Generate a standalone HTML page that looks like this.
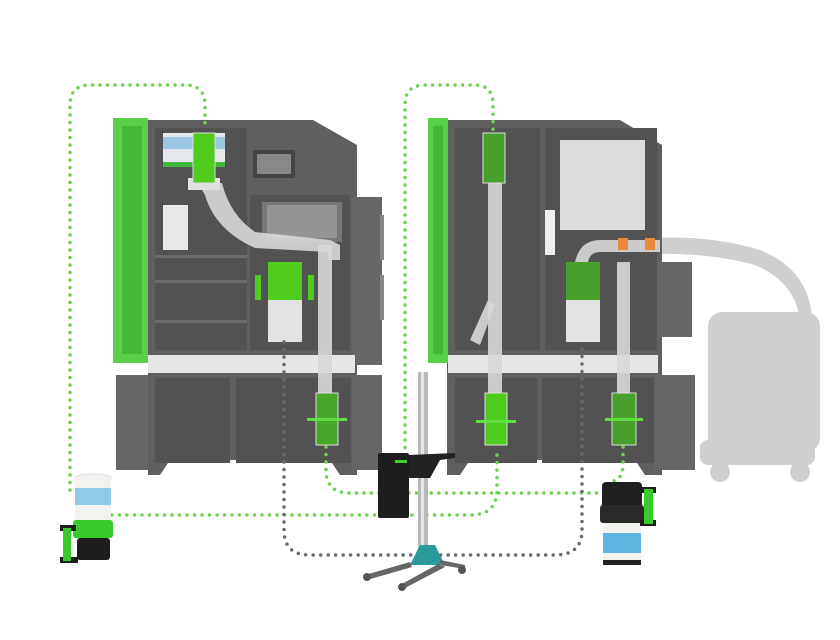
<!DOCTYPE html>
<html><head><meta charset="utf-8"><style>html,body{margin:0;padding:0;background:#fff}svg{display:block}</style></head>
<body>
<svg width="840" height="640" viewBox="0 0 840 640" xmlns="http://www.w3.org/2000/svg">
<defs>
<style>
.gd{fill:none;stroke:#72cf55;stroke-width:3.5;stroke-linecap:round;stroke-dasharray:0 7.5}
.kd{fill:none;stroke:#6a6a6a;stroke-width:3.5;stroke-linecap:round;stroke-dasharray:0 7.5}
.cab{fill:#5f5f5f}
.in{fill:#525252}
.door{fill:#666}
.pipe{fill:#d8d8d8;opacity:.9}
</style>
</defs>
<!-- vacuum silhouette -->
<g fill="#cfcfcf">
<path d="M630 240 Q700 232 760 250 Q810 270 812 320 L800 320 Q795 282 755 265 Q700 250 630 255Z"/>
<rect x="708" y="312" width="112" height="140" rx="14"/>
<rect x="700" y="440" width="115" height="25" rx="8"/>
<circle cx="720" cy="472" r="10"/><circle cx="800" cy="472" r="10"/>
</g>
<!-- LEFT MACHINE -->
<g>
<path class="cab" d="M148 120 L313 120 L357 145 L357 475 L340 475 L330 460 L170 460 L160 475 L148 475Z"/>
<rect class="in" x="155" y="128" width="92" height="222"/>
<rect class="in" x="250" y="195" width="100" height="155"/>
<rect class="in" x="155" y="378" width="75" height="85"/>
<rect class="in" x="236" y="378" width="115" height="85"/>
<rect x="253" y="150" width="42" height="28" fill="#444"/><rect x="257" y="154" width="34" height="20" fill="#888"/>
<rect x="262" y="202" width="80" height="40" fill="#777"/><rect x="267" y="205" width="70" height="33" fill="#aaa" opacity=".6"/>
<rect x="163" y="133" width="62" height="32" fill="#e2e8ec"/><rect x="163" y="137" width="62" height="12" fill="#9cc7e2"/>
<rect x="163" y="162" width="62" height="5" fill="#3fb83a"/>
<rect x="163" y="205" width="25" height="45" fill="#e8e8e8"/>
<rect x="155" y="255" width="92" height="3" fill="#6c6c6c"/><rect x="155" y="280" width="92" height="3" fill="#6c6c6c"/><rect x="155" y="320" width="92" height="3" fill="#6c6c6c"/>
<rect x="113" y="118" width="35" height="245" fill="#58d048"/><rect x="122" y="126" width="20" height="228" fill="#45b83a"/>
<rect x="352" y="197" width="30" height="168" class="door"/><rect x="380" y="215" width="4" height="45" fill="#888"/><rect x="380" y="275" width="4" height="45" fill="#888"/>
<rect x="148" y="355" width="207" height="18" fill="#e6e6e6"/>
<rect x="116" y="375" width="32" height="95" class="door"/>
<rect x="352" y="375" width="30" height="95" class="door"/>
<!-- pipes -->
<path class="pipe" d="M198 183 L222 183 Q230 215 255 232 L330 240 L340 245 L340 260 L328 260 L328 252 L255 248 Q215 230 205 195Z"/>
<rect class="pipe" x="318" y="245" width="14" height="150"/>
<rect x="188" y="178" width="32" height="12" fill="#e0e0e0"/>
<rect x="193" y="133" width="22" height="50" fill="#4fcc1e" stroke="#ddd"/>
<rect x="268" y="262" width="34" height="80" fill="#e2e2e2"/><rect x="268" y="262" width="34" height="38" fill="#4fcc1e"/>
<rect x="316" y="393" width="22" height="52" fill="#45a82a" stroke="#ddd"/>
<rect x="307" y="418" width="40" height="3" fill="#5fe040"/>
<rect x="255" y="275" width="6" height="25" fill="#4fcc1e"/><rect x="308" y="275" width="6" height="25" fill="#4fcc1e"/>
</g>
<!-- RIGHT MACHINE -->
<g>
<path class="cab" d="M447 120 L620 120 L662 145 L662 475 L645 475 L635 460 L470 460 L460 475 L447 475Z"/>
<rect class="in" x="455" y="128" width="85" height="222"/>
<rect class="in" x="545" y="128" width="112" height="222"/>
<rect class="in" x="455" y="378" width="82" height="85"/>
<rect class="in" x="542" y="378" width="112" height="85"/>
<rect x="560" y="140" width="85" height="90" fill="#dcdcdc"/>
<rect x="545" y="210" width="10" height="45" fill="#eee"/>
<rect x="428" y="118" width="20" height="245" fill="#58d048"/><rect x="433" y="126" width="10" height="228" fill="#45b83a"/>
<rect x="657" y="262" width="35" height="75" class="door"/>
<rect x="448" y="355" width="210" height="18" fill="#e6e6e6"/>
<rect x="655" y="375" width="40" height="95" class="door"/>
<rect class="pipe" x="488" y="180" width="14" height="215"/>
<path class="pipe" d="M470 340 L488 300 L495 305 L480 345Z"/>
<path class="pipe" d="M575 262 Q580 240 600 240 L660 240 L660 252 L600 252 Q590 252 588 262Z"/>
<rect class="pipe" x="617" y="262" width="13" height="133"/>
<rect x="483" y="133" width="22" height="50" fill="#48a02c" stroke="#ddd"/>
<rect x="566" y="262" width="34" height="80" fill="#e2e2e2"/><rect x="566" y="262" width="34" height="38" fill="#48a02c"/>
<rect x="485" y="393" width="22" height="52" fill="#4fcc1e" stroke="#ddd"/>
<rect x="476" y="420" width="40" height="3" fill="#5fe040"/>
<rect x="612" y="393" width="24" height="52" fill="#48a02c" stroke="#ddd"/>
<rect x="605" y="418" width="38" height="3" fill="#5fe040"/>
<rect x="618" y="238" width="10" height="12" fill="#e98a3a"/><rect x="645" y="238" width="10" height="12" fill="#e98a3a"/>
</g>
<!-- dotted connectors -->
<path class="gd" d="M70 490 L70 105 Q70 85 90 85 L185 85 Q205 85 205 105 L205 130"/>
<path class="gd" d="M405 470 L405 105 Q405 85 425 85 L475 85 Q493 85 493 105 L493 130"/>
<path class="gd" d="M112 515 L470 515 Q497 515 497 490 L497 448"/>
<path class="gd" d="M326 447 L326 470 Q326 493 350 493 L600 493"/>
<path class="gd" d="M623 447 L623 465 Q623 480 610 482"/>
<path class="kd" d="M284 342 L284 530 Q284 555 310 555 L555 555 Q582 555 582 530 L582 345"/>
<!-- lift -->
<g>
<rect x="418" y="372" width="10" height="192" fill="#b8b8b8"/><rect x="421" y="372" width="3" height="192" fill="#e6e6e6"/>
<path d="M409 455 L455 453 L455 458 L440 460 L430 478 L409 478Z" fill="#222"/>
<rect x="378" y="453" width="31" height="65" rx="2" fill="#1d1d1d"/>
<rect x="395" y="460" width="12" height="3" fill="#3fcf2f"/>
<path d="M410 565 L420 545 L435 545 L445 565Z" fill="#2a9a9a"/>
<path d="M410 562 L365 575 L367 580 L412 567Z M440 563 L400 585 L403 589 L445 567Z M440 560 L465 565 L465 569 L440 565Z" fill="#666"/>
<circle cx="367" cy="577" r="4" fill="#555"/><circle cx="402" cy="587" r="4" fill="#555"/><circle cx="462" cy="570" r="4" fill="#555"/>
</g>
<!-- left cartridge -->
<g>
<ellipse cx="93" cy="478" rx="18" ry="4" fill="#f4f4f4" stroke="#ddd"/>
<rect x="75" y="478" width="36" height="45" fill="#f2f2ee"/>
<rect x="75" y="488" width="36" height="17" fill="#8fcbe8"/>
<rect x="73" y="520" width="40" height="18" rx="3" fill="#38c92a"/>
<rect x="77" y="538" width="33" height="22" rx="3" fill="#1e1e1e"/>
<rect x="60" y="525" width="16" height="6" fill="#1e1e1e"/><rect x="60" y="557" width="18" height="6" fill="#1e1e1e"/>
<rect x="63" y="528" width="8" height="33" fill="#38c92a"/>
</g>
<!-- right cartridge -->
<g>
<rect x="602" y="482" width="40" height="28" rx="4" fill="#1f1f1f"/>
<rect x="600" y="505" width="44" height="18" rx="3" fill="#2a2a2a"/>
<rect x="603" y="523" width="38" height="40" rx="3" fill="#f2f2ee"/>
<rect x="603" y="533" width="38" height="20" fill="#5eb5e0"/>
<rect x="603" y="560" width="38" height="5" fill="#222"/>
<rect x="640" y="487" width="16" height="6" fill="#1e1e1e"/><rect x="640" y="520" width="16" height="6" fill="#1e1e1e"/>
<rect x="644" y="489" width="9" height="35" fill="#38c92a"/>
</g>
</svg>
</body></html>
